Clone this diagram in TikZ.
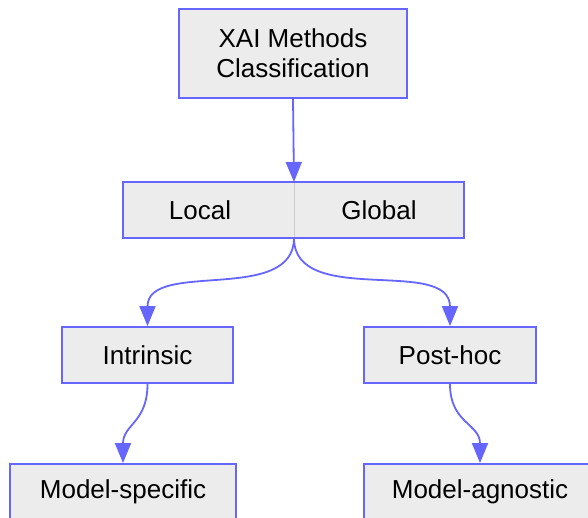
\documentclass[tikz,border=0pt]{standalone}
\usepackage{fontspec}
\setmainfont{Liberation Sans}
\usepackage{tikz}
\usetikzlibrary{positioning,arrows.meta}
\definecolor{edgeblue}{HTML}{6666FF}
\definecolor{boxfill}{HTML}{ECECEC}
\definecolor{sepgray}{HTML}{CCCCCC}

\begin{document}
\begin{tikzpicture}[x=1pt, y=-1pt, node distance=0pt,
		box/.style={draw=edgeblue, fill=boxfill, line width=1.8pt, minimum height=56pt, align=center, font=\fontsize{26}{30}\selectfont},
		half/.style={fill=boxfill, outer sep=0pt, minimum height=56pt, font=\fontsize{26}{30}\selectfont},
		link/.style={draw=edgeblue, line width=1.8pt, -{Triangle[length=20pt,width=16pt]}}]
		\useasboundingbox (0,0) rectangle (588,518);

		\node[box, minimum width=228pt, minimum height=89pt] (xai) at (293,53.5) {XAI Methods\\Classification};
		\node[half, minimum width=171pt] (local) at (208.5,210) {Local\kern17pt};
		\node[half, minimum width=170pt] (global) [right=of local] {Global};
		\draw[sepgray, line width=0.8pt] (local.north east) -- (local.south east);
		\draw[edgeblue, line width=1.8pt] (local.north west) rectangle (global.south east);
		\node[box, minimum width=171pt] (intr) at (147.5,355) {Intrinsic};
		\node[box, minimum width=172pt] (post) at (450,355) {Post-hoc};
		\node[box, minimum width=226pt] (spec) at (123,492) {Model-specific};
		\node[box, minimum width=232pt] (agn) at (480,492) {Model-agnostic};

		\draw[link] (xai.south) -- (local.north east);
		\draw[link] (local.south east) to[out=-90, in=90] (intr.north);
		\draw[link] (local.south east) to[out=-90, in=90] (post.north);
		\draw[link] (intr.south) to[out=-90, in=90, looseness=1.2] (spec.north);
		\draw[link] (post.south) to[out=-90, in=90, looseness=1.2] (agn.north);
	\end{tikzpicture}
\end{document}
